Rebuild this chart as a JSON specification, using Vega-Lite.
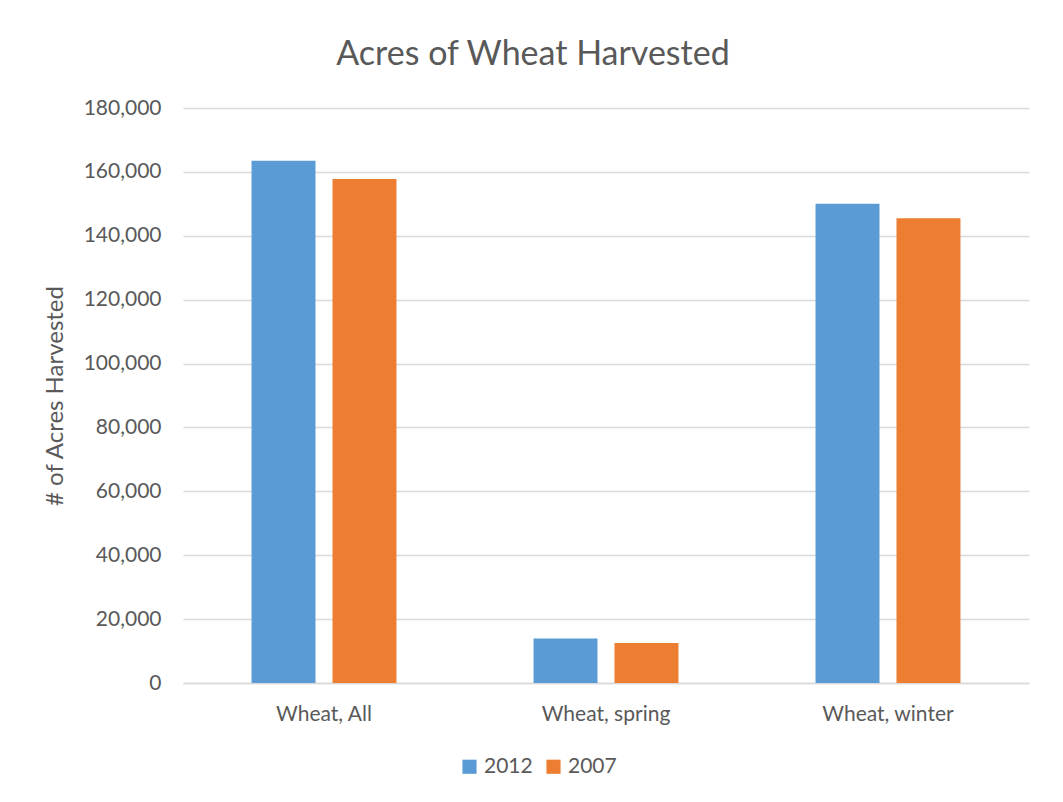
{
  "$schema": "https://vega.github.io/schema/vega-lite/v6.json",
  "autosize": "none",
  "width": 846,
  "height": 575,
  "padding": {"left": 183, "top": 108, "right": 34, "bottom": 119},
  "background": "white",
  "title": {
    "text": "Acres of Wheat Harvested",
    "font": "Lato",
    "fontSize": 34,
    "fontWeight": "normal",
    "color": "#595959",
    "anchor": "middle",
    "dx": -73,
    "offset": 25
  },
  "data": {
    "values": [
      {"crop": "Wheat, All", "year": "2012", "acres": 163500},
      {"crop": "Wheat, All", "year": "2007", "acres": 157800},
      {"crop": "Wheat, spring", "year": "2012", "acres": 13900},
      {"crop": "Wheat, spring", "year": "2007", "acres": 12500},
      {"crop": "Wheat, winter", "year": "2012", "acres": 150000},
      {"crop": "Wheat, winter", "year": "2007", "acres": 145500}
    ]
  },
  "mark": {"type": "bar"},
  "encoding": {
    "x": {
      "field": "crop",
      "type": "nominal",
      "sort": null,
      "scale": {"paddingInner": 0.486, "paddingOuter": 0.243},
      "axis": {
        "title": null,
        "labelAngle": 0,
        "labelFont": "Lato",
        "labelFontSize": 21,
        "labelColor": "#595959",
        "labelPadding": 20,
        "ticks": false,
        "domainColor": "#d9d9d9",
        "domainWidth": 1.5
      }
    },
    "xOffset": {
      "field": "year",
      "sort": ["2012", "2007"],
      "scale": {"paddingInner": 0.21, "paddingOuter": 0}
    },
    "y": {
      "field": "acres",
      "type": "quantitative",
      "scale": {"domain": [0, 180000]},
      "axis": {
        "title": "# of Acres Harvested",
        "titleFont": "Lato",
        "titleFontSize": 24,
        "titleFontWeight": "normal",
        "titleColor": "#595959",
        "titlePadding": 16,
        "values": [0, 20000, 40000, 60000, 80000, 100000, 120000, 140000, 160000, 180000],
        "format": ",d",
        "labelFont": "Lato",
        "labelFontSize": 21,
        "labelColor": "#595959",
        "labelPadding": 22,
        "ticks": false,
        "domain": false,
        "gridColor": "#d9d9d9",
        "gridWidth": 1.3
      }
    },
    "color": {
      "field": "year",
      "type": "nominal",
      "sort": ["2012", "2007"],
      "scale": {"domain": ["2012", "2007"], "range": ["#5b9bd5", "#ed7d31"]},
      "legend": {
        "title": null,
        "orient": "none",
        "legendX": 276,
        "legendY": 648,
        "direction": "horizontal",
        "symbolType": "square",
        "symbolSize": 200,
        "symbolStrokeWidth": 0,
        "labelFont": "Lato",
        "labelFontSize": 21,
        "labelColor": "#595959",
        "columnPadding": 10
      }
    }
  },
  "config": {
    "view": {"stroke": null}
  }
}
